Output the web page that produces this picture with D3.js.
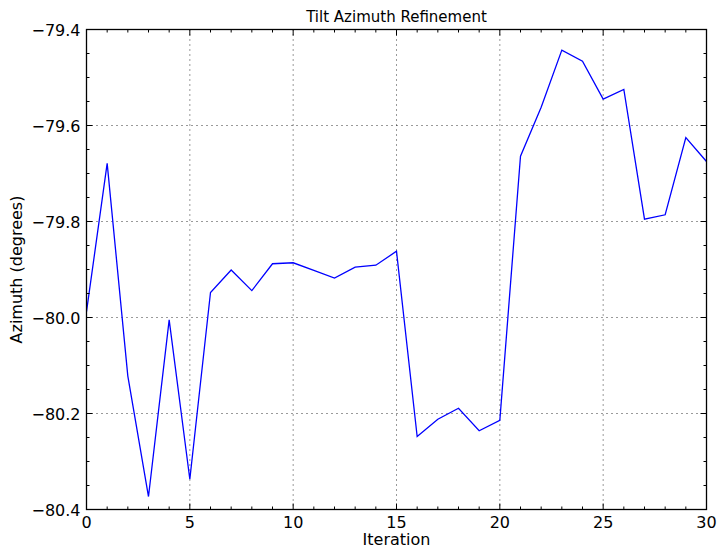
<!DOCTYPE html>
<html><head><meta charset="utf-8">
<script src="https://cdn.jsdelivr.net/npm/d3@7"></script>
<style>body{margin:0;background:#fff;} svg{display:block;font-family:"DejaVu Sans",sans-serif;}</style>
</head><body>
<svg id="c" width="725" height="555"></svg>
<script>
const iterations = d3.range(0, 31);
const azimuth = [-79.988,-79.679,-80.122,-80.373,-80.005,-80.337,-79.948,-79.901,-79.944,-79.888,-79.886,
  -79.902,-79.918,-79.895,-79.891,-79.862,-80.248,-80.212,-80.189,-80.236,-80.214,
  -79.664,-79.562,-79.443,-79.466,-79.545,-79.525,-79.795,-79.786,-79.625,-79.675];
const xTicks = [0,5,10,15,20,25,30];
const yTicks = [-80.4,-80.2,-80.0,-79.8,-79.6,-79.4];
const xMinor = d3.range(0,31);
const yMinor = d3.range(0,21).map(i => -80.4 + i*0.05);

const m = {l:86.5, r:706.5, t:29.5, b:509.5};
const svg = d3.select("#c");
const x = d3.scaleLinear().domain([0,30]).range([m.l, m.r]);
const y = d3.scaleLinear().domain([-80.4,-79.4]).range([m.b, m.t]);
const fmt = v => (v<0?"\u2212":"") + Math.abs(v).toFixed(1);

// grid
const g = svg.append("g");
g.selectAll(".gx").data(xTicks.slice(1,-1)).enter().append("line")
  .attr("x1", d=>x(d)).attr("x2", d=>x(d)).attr("y1", m.t).attr("y2", m.b)
  .attr("stroke","#000").attr("stroke-width",0.8).attr("stroke-dasharray","1,4");
g.selectAll(".gy").data(yTicks.slice(1,-1)).enter().append("line")
  .attr("y1", d=>y(d)).attr("y2", d=>y(d)).attr("x1", m.l).attr("x2", m.r)
  .attr("stroke","#000").attr("stroke-width",0.8).attr("stroke-dasharray","1,4");

// line
svg.append("defs").append("clipPath").attr("id","clip").append("rect")
  .attr("x",m.l).attr("y",m.t).attr("width",m.r-m.l).attr("height",m.b-m.t);
svg.append("path").datum(iterations.map((d,i)=>[d,azimuth[i]]))
  .attr("clip-path","url(#clip)")
  .attr("d", d3.line().x(d=>x(d[0])).y(d=>y(d[1])))
  .attr("fill","none").attr("stroke","#0000ff").attr("stroke-width",1.3);

// ticks (inward, all four sides)
const tk = svg.append("g").attr("stroke","#000").attr("stroke-width",1);
const isMajorX = d => xTicks.includes(d);
xMinor.forEach(d => {
  const L = isMajorX(d) ? 6 : 3;
  tk.append("line").attr("x1",x(d)).attr("x2",x(d)).attr("y1",m.b).attr("y2",m.b-L);
  tk.append("line").attr("x1",x(d)).attr("x2",x(d)).attr("y1",m.t).attr("y2",m.t+L);
});
yMinor.forEach((d,i) => {
  const L = (i%4===0) ? 6 : 3;
  tk.append("line").attr("y1",y(d)).attr("y2",y(d)).attr("x1",m.l).attr("x2",m.l+L);
  tk.append("line").attr("y1",y(d)).attr("y2",y(d)).attr("x1",m.r).attr("x2",m.r-L);
});

// frame
svg.append("rect").attr("x",m.l).attr("y",m.t).attr("width",m.r-m.l).attr("height",m.b-m.t)
  .attr("fill","none").attr("stroke","#000").attr("stroke-width",1.3);

// tick labels
svg.selectAll(".xl").data(xTicks).enter().append("text")
  .attr("x", d=>x(d)).attr("y", m.b+18).attr("text-anchor","middle")
  .attr("font-size",16).text(d=>d);
svg.selectAll(".yl").data(yTicks).enter().append("text")
  .attr("x", m.l-6).attr("y", d=>y(d)+6).attr("text-anchor","end")
  .attr("font-size",16).text(fmt);

// labels
svg.append("text").attr("x",(m.l+m.r)/2).attr("y",22).attr("text-anchor","middle")
  .attr("font-size",15).text("Tilt Azimuth Refinement");
svg.append("text").attr("x",(m.l+m.r)/2).attr("y",545).attr("text-anchor","middle")
  .attr("font-size",16).text("Iteration");
svg.append("text").attr("transform",`translate(22,${(m.t+m.b)/2}) rotate(-90)`)
  .attr("text-anchor","middle").attr("font-size",16).text("Azimuth (degrees)");
</script>
</body></html>
